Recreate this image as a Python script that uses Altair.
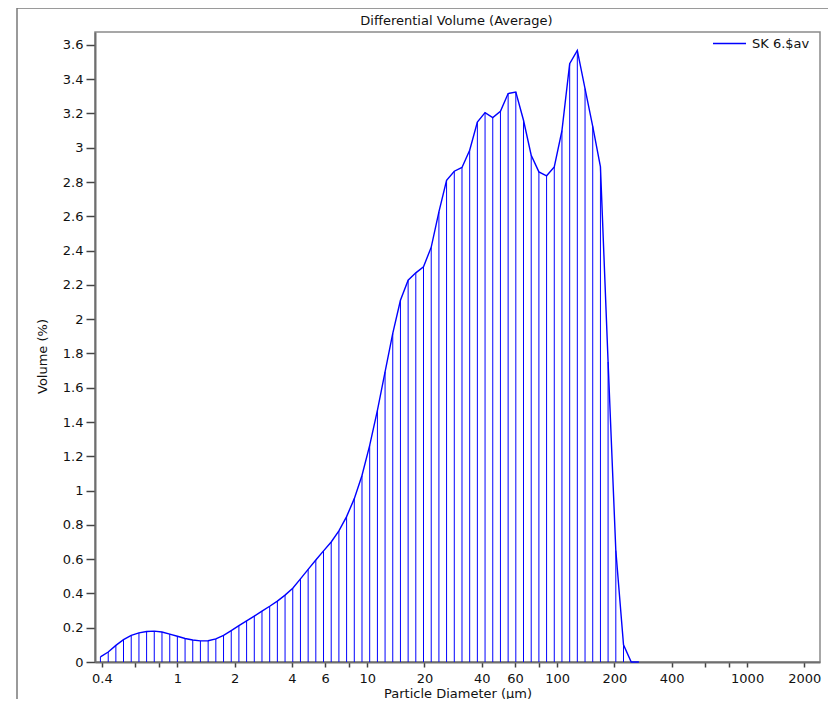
import altair as alt
import pandas as pd

# Channel centre diameters (µm) and differential volume (%)
diameter_um = [
    0.393, 0.432, 0.474, 0.520, 0.571, 0.627, 0.688, 0.755, 0.829, 0.911,
    0.999, 1.097, 1.204, 1.321, 1.451, 1.593, 1.749, 1.920, 2.107, 2.313,
    2.539, 2.787, 3.060, 3.359, 3.687, 4.048, 4.444, 4.879, 5.355, 5.879,
    6.453, 7.084, 7.777, 8.537, 9.372, 10.29, 11.30, 12.40, 13.61, 14.94,
    16.40, 18.00, 19.76, 21.70, 23.82, 26.14, 28.70, 31.51, 34.59, 37.97,
    41.68, 45.76, 50.23, 55.14, 60.53, 66.44, 72.94, 80.07, 87.90, 96.49,
    105.9, 116.3, 127.6, 140.1, 153.8, 168.9, 185.3, 203.5, 223.4, 245.3,
    269.2,
]
volume_pct = [
    0.030, 0.058, 0.097, 0.130, 0.155, 0.170, 0.178, 0.180, 0.175, 0.163,
    0.150, 0.137, 0.128, 0.123, 0.124, 0.135, 0.155, 0.183, 0.212, 0.240,
    0.268, 0.297, 0.325, 0.355, 0.390, 0.430, 0.485, 0.540, 0.595, 0.648,
    0.700, 0.765, 0.848, 0.953, 1.088, 1.264, 1.468, 1.693, 1.917, 2.110,
    2.227, 2.270, 2.305, 2.420, 2.626, 2.810, 2.863, 2.885, 2.985, 3.150,
    3.205, 3.176, 3.213, 3.316, 3.325, 3.160, 2.956, 2.859, 2.836, 2.888,
    3.100, 3.490, 3.568, 3.345, 3.125, 2.888, 1.750, 0.650, 0.100, 0.000,
    0.000,
]
series_name = "SK 6.$av"
chart_title = "Differential Volume (Average)"

x_tick_values = [0.4, 0.6, 0.8, 1, 2, 4, 6, 8, 10, 20, 40, 60, 80, 100,
                 200, 400, 600, 800, 1000, 2000]
x_tick_labeled = [0.4, 1, 2, 4, 6, 10, 20, 40, 60, 100, 200, 400, 1000, 2000]
y_tick_values = [0, 0.2, 0.4, 0.6, 0.8, 1, 1.2, 1.4, 1.6, 1.8, 2, 2.2, 2.4,
                 2.6, 2.8, 3, 3.2, 3.4, 3.6]

FONT = "DejaVu Sans"
BLUE = "#0000ff"
W, H = 725, 630

df = pd.DataFrame({"d": diameter_um, "v": volume_pct, "series": series_name})

x_scale = alt.Scale(type="log", domain=[0.368, 2420], nice=False)
y_scale = alt.Scale(domain=[0, 3.675], nice=False, zero=False)

labeled_js = "[" + ",".join(str(v) for v in x_tick_labeled) + "]"

x_axis = alt.Axis(
    title="Particle Diameter (µm)",
    values=x_tick_values,
    format="~g",
    labelExpr=f"indexof({labeled_js}, datum.value) >= 0 ? datum.label : ''",
    labelOverlap=False,
    tickSize=5,
    labelPadding=5,
    grid=False,
    titleY=35,
    titleBaseline="alphabetic",
)
y_axis = alt.Axis(
    title="Volume (%)",
    values=y_tick_values,
    format=".1~f",
    tickSize=9,
    labelPadding=3,
    grid=False,
    titleX=-53,
    titleY=324,
    titleBaseline="middle",
)

frame = alt.Chart(pd.DataFrame({"k": [0]})).mark_rect(
    filled=False, stroke="#7a7a7a", strokeWidth=1.5
).encode(
    x=alt.value(-78), x2=alt.value(800), y=alt.value(-24), y2=alt.value(720)
)

title_text = alt.Chart(pd.DataFrame({"t": [chart_title]})).mark_text(
    font=FONT, fontSize=13, color="#111", align="center", baseline="middle"
).encode(text="t:N", x=alt.value(W / 2 - 1), y=alt.value(-11))

rules = alt.Chart(df).mark_rule(color=BLUE, strokeWidth=1).encode(
    x=alt.X("d:Q", scale=x_scale, axis=x_axis),
    y=alt.Y("v:Q", scale=y_scale, axis=y_axis),
    y2=alt.datum(0),
)

line = alt.Chart(df).mark_line(strokeWidth=1.4).encode(
    x=alt.X("d:Q", scale=x_scale, axis=x_axis),
    y=alt.Y("v:Q", scale=y_scale, axis=y_axis),
    color=alt.Color(
        "series:N",
        scale=alt.Scale(range=[BLUE]),
        legend=alt.Legend(
            title=None,
            orient="none",
            legendX=617,
            legendY=-6,
            symbolType="stroke",
            symbolSize=1089,
            symbolStrokeWidth=1.4,
            labelOffset=5,
            padding=0,
            labelFont=FONT,
            labelFontSize=13,
            labelColor="#111",
        ),
    ),
)

chart = alt.layer(frame, title_text, rules, line).properties(
    width=W,
    height=H,
    autosize=alt.AutoSizeParams(type="none"),
    padding={"left": 87, "top": 24, "right": 8, "bottom": 37},
).configure_view(
    stroke="#8a8a8a", strokeWidth=1.5
).configure_axis(
    labelFont=FONT,
    labelFontSize=13,
    labelColor="#111",
    titleFont=FONT,
    titleFontSize=13,
    titleFontWeight="normal",
    titleColor="#111",
    domainColor="#6e6e6e",
    domainWidth=2,
    tickColor="#444",
    tickWidth=1.5,
)

chart.save("out.html", embed_options={"renderer": "svg", "actions": False})
